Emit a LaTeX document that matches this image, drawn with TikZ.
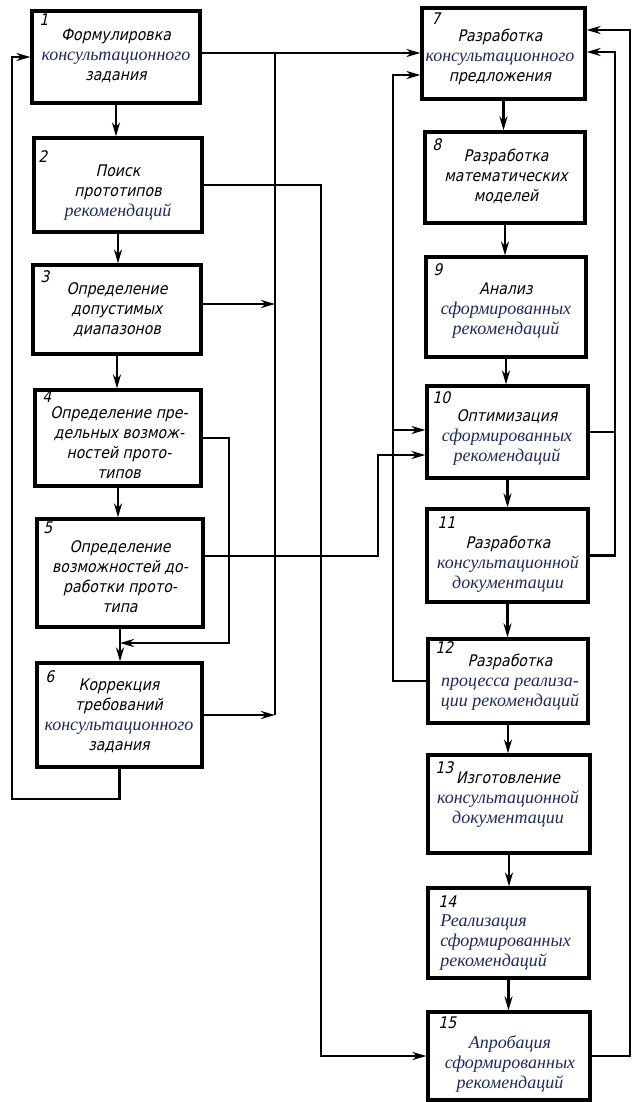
\documentclass[tikz,border=0pt]{standalone}
\usepackage{fontspec}
\newfontfamily\gostfont[FakeStretch=0.88,FakeSlant=0.22]{DejaVu Sans}
\newfontfamily\serfont{Liberation Serif}
\usetikzlibrary{arrows.meta,fit}
\definecolor{serc}{RGB}{30,40,95}
\newcommand\GT[1]{{\gostfont\fontsize{8}{10}\selectfont #1}}
\newcommand\SR[1]{{\serfont\itshape\fontsize{9}{10}\selectfont\color{serc}#1}}
\begin{document}
\begin{tikzpicture}[x=0.5pt,y=-0.5pt,
 box/.style={draw, line width=1.6pt, inner sep=0pt},
 txt/.style={align=center, inner sep=0pt, font=\fontsize{8}{10}\selectfont},
 num/.style={anchor=north west, inner sep=0pt, font=\gostfont\fontsize{8}{9}\selectfont},
 ln/.style={line width=1.25pt},
 arr/.style={ln, -{Stealth[length=7pt,width=4pt]}}]
\useasboundingbox (0,0) rectangle (632,1102);
% boxes
\node[box, fit={(32,11) (200,103)}] (b1) {};
\node[box, fit={(34,138) (202,232)}] (b2) {};
\node[box, fit={(33,265) (201,354)}] (b3) {};
\node[box, fit={(35,390) (201,486)}] (b4) {};
\node[box, fit={(37,519) (203,627)}] (b5) {};
\node[box, fit={(37,663) (202,767)}] (b6) {};
\node[box, fit={(422,8) (585,99)}] (b7) {};
\node[box, fit={(425,132) (585,223)}] (b8) {};
\node[box, fit={(426,257) (586,357)}] (b9) {};
\node[box, fit={(427,386) (588,478)}] (b10) {};
\node[box, fit={(427,509) (588,602)}] (b11) {};
\node[box, fit={(428,639) (588,723)}] (b12) {};
\node[box, fit={(428,755) (590,853)}] (b13) {};
\node[box, fit={(428,888) (589,978)}] (b14) {};
\node[box, fit={(428,1012) (590,1100)}] (b15) {};
% numbers
\node[num] (n1) at (39,13) {1};
\node[num] (n2) at (38,150) {2};
\node[num] (n3) at (40,270) {3};
\node[num] (n4) at (42,390) {4};
\node[num] (n5) at (43,521) {5};
\node[num] (n6) at (45,670) {6};
\node[num] (n7) at (431,12) {7};
\node[num] (n8) at (432,138) {8};
\node[num] (n9) at (433,263) {9};
\node[num] (n10) at (432,391) {10};
\node[num] (n11) at (437,516) {11};
\node[num] (n12) at (435,641) {12};
\node[num] (n13) at (435,761) {13};
\node[num] (n14) at (438,895) {14};
\node[num] (n15) at (438,1016) {15};
% texts
\node[txt] (t1) at (116,56) {\GT{Формулировка}\\ \SR{консультационного}\\ \GT{задания}};
\node[txt] (t2) at (118,193) {\GT{Поиск}\\ \GT{прототипов}\\ \SR{рекомендаций}};
\node[txt] (t3) at (117,310) {\GT{Определение}\\ \GT{допустимых}\\ \GT{диапазонов}};
\node[txt] (t4) at (119,443) {\GT{Определение пре-}\\ \GT{дельных возмож-}\\ \GT{ностей прото-}\\ \GT{типов}};
\node[txt] (t5) at (120,577) {\GT{Определение}\\ \GT{возможностей до-}\\ \GT{работки прото-}\\ \GT{типа}};
\node[txt] (t6) at (119,716) {\GT{Коррекция}\\ \GT{требований}\\ \SR{консультационного}\\ \GT{задания}};
\node[txt] (t7) at (500,57) {\GT{Разработка}\\ \SR{консультационного}\\ \GT{предложения}};
\node[txt] (t8) at (506,176) {\GT{Разработка}\\ \GT{математических}\\ \GT{моделей}};
\node[txt] (t9) at (506,311) {\GT{Анализ}\\ \SR{сформированных}\\ \SR{рекомендаций}};
\node[txt] (t10) at (507,437) {\GT{Оптимизация}\\ \SR{сформированных}\\ \SR{рекомендаций}};
\node[txt] (t11) at (508,564) {\GT{Разработка}\\ \SR{консультационной}\\ \SR{документации}};
\node[txt] (t12) at (510,682) {\GT{Разработка}\\ \SR{процесса реализа-}\\ \SR{ции рекомендаций}};
\node[txt] (t13) at (508,800) {\GT{Изготовление}\\ \SR{консультационной}\\ \SR{документации}};
\node[txt, align=left, anchor=west] (t14) at (440,943) {\SR{Реализация}\\ \SR{сформированных}\\ \SR{рекомендаций}};
\node[txt] (t15) at (510,1064) {\SR{Апробация}\\ \SR{сформированных}\\ \SR{рекомендаций}};
% coordinates
\coordinate (busx) at (275,0);
\coordinate (y53) at (0,53);
\coordinate (y303) at (0,304);
\coordinate (x321) at (321,0);
\coordinate (x229) at (229,0);
\coordinate (y643) at (0,643);
\coordinate (x12) at (12,0);
\coordinate (y799) at (0,799);
\coordinate (x378) at (378,0);
\coordinate (y556) at (0,556);
\coordinate (y455) at (0,455);
\coordinate (x393) at (393,0);
\coordinate (y75) at (0,75);
\coordinate (y430) at (0,430);
\coordinate (x615) at (615,0);
\coordinate (y52) at (0,52);
\coordinate (x630) at (630,0);
\coordinate (y30) at (0,30);
% vertical flow
\foreach \a/\b in {b1/b2,b2/b3,b3/b4,b4/b5,b5/b6,b7/b8,b8/b9,b9/b10,b10/b11,b11/b12,b12/b13,b13/b14,b14/b15}
  \draw[arr] (\a.south) -- (\a.south |- \b.north);
% left side connectors
\draw[arr] (b1.east |- y53) -- (b7.west |- y53);
\draw[ln] (busx |- y53) -- (busx |- b6.east);
\draw[arr] (b3.east |- y303) -- (busx |- y303);
\draw[arr] (b6.east) -- (b6.east -| busx);
\draw[arr] (b2.east) -- (b2.east -| x321) -- (x321 |- b15.west) -- (b15.west);
\draw[arr] (b4.east) -- (b4.east -| x229) -- (x229 |- y643) -- (b5.south |- y643);
\draw[arr] (b6.south) -- (b6.south |- y799) -- (x12 |- y799) -- (x12 |- b1.west) -- (b1.west);
\draw[arr] (b5.east |- y556) -- (x378 |- y556) -- (x378 |- y455) -- (b10.west |- y455);
\draw[arr] (b12.west) -- (b12.west -| x393) -- (x393 |- y75) -- (b7.west |- y75);
\draw[arr] (x393 |- y430) -- (b10.west |- y430);
% right side feedback
\draw[arr] (b10.east) -- (b10.east -| x615) -- (x615 |- y52) -- (b7.east |- y52);
\draw[ln] (b11.east) -- (b11.east -| x615) -- (x615 |- b10.east);
\draw[arr] (b15.east) -- (b15.east -| x630) -- (x630 |- y30) -- (b7.east |- y30);
\end{tikzpicture}
\end{document}
